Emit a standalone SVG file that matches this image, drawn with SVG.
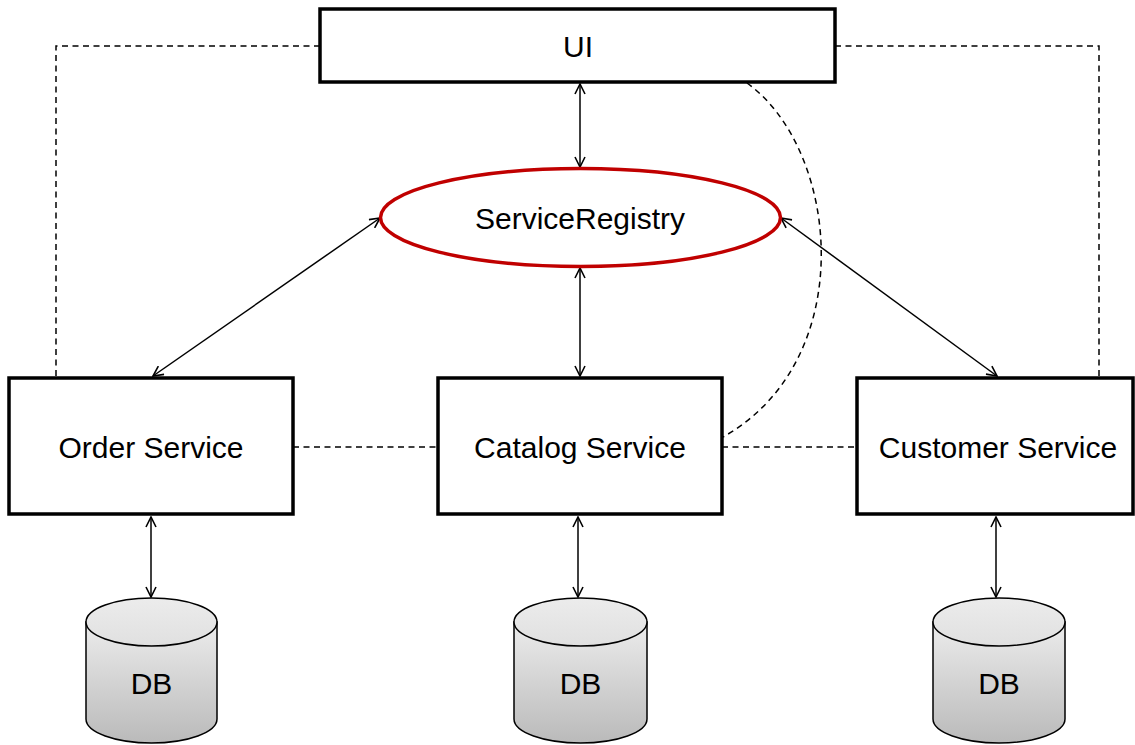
<svg xmlns="http://www.w3.org/2000/svg" width="1135" height="745" viewBox="0 0 1135 745">
<defs>
<linearGradient id="dbg" x1="0" y1="0" x2="0" y2="1">
<stop offset="0" stop-color="#ececec"/>
<stop offset="1" stop-color="#bababa"/>
</linearGradient>
<linearGradient id="dbtop" x1="0" y1="0" x2="0" y2="1">
<stop offset="0" stop-color="#ececec"/>
<stop offset="1" stop-color="#e0e0e0"/>
</linearGradient>
<marker id="ah" viewBox="0 0 12 12" refX="11" refY="6" markerWidth="12" markerHeight="12" markerUnits="userSpaceOnUse" orient="auto-start-reverse">
<path d="M1,1 L11,6 L1,11" fill="none" stroke="#000" stroke-width="1.6"/>
</marker>
</defs>
<style>
.box{fill:#fff;stroke:#000;stroke-width:3.5}
.lbl{font-family:"Liberation Sans",Arial,sans-serif;font-size:30px;fill:#000;text-anchor:middle}
.dash{fill:none;stroke:#000;stroke-width:1.5;stroke-dasharray:6 4.5}
.arr{fill:none;stroke:#000;stroke-width:1.5;marker-start:url(#ah);marker-end:url(#ah)}
.db{stroke:#000;stroke-width:1.5}
</style>
<rect width="1135" height="745" fill="#fff"/>
<g id="connectors">
<path class="dash" d="M320,46 H56 V377"/>
<path class="dash" d="M835,46 H1099 V377"/>
<path class="dash" d="M293,447 H438"/>
<path class="dash" d="M722,447 H857"/>
<path class="dash" d="M747,83 C840,150 860,360 723,437"/>
<line class="arr" x1="580" y1="84" x2="580" y2="167"/>
<line class="arr" x1="580" y1="268" x2="580" y2="376"/>
<line class="arr" x1="380" y1="218" x2="153" y2="376"/>
<line class="arr" x1="781" y1="218" x2="997" y2="376"/>
<line class="arr" x1="151" y1="517" x2="151" y2="597"/>
<line class="arr" x1="578" y1="517" x2="578" y2="597"/>
<line class="arr" x1="996" y1="517" x2="996" y2="597"/>
</g>
<g id="ui">
<rect class="box" x="320" y="9" width="515" height="73"/>
<text class="lbl" x="578" y="57">UI</text>
</g>
<g id="registry">
<ellipse cx="580.5" cy="217.5" rx="200" ry="49" fill="#fff" stroke="#c00000" stroke-width="3.5"/>
<text class="lbl" x="580" y="229">ServiceRegistry</text>
</g>
<g id="order">
<rect class="box" x="9" y="378" width="284" height="136"/>
<text class="lbl" x="151" y="458">Order Service</text>
</g>
<g id="catalog">
<rect class="box" x="438" y="378" width="284" height="136"/>
<text class="lbl" x="580" y="458">Catalog Service</text>
</g>
<g id="customer">
<rect class="box" x="857" y="378" width="276" height="136"/>
<text class="lbl" x="998" y="458">Customer Service</text>
</g>
<g id="db-order">
<path class="db" fill="url(#dbg)" d="M86,622 V719 A65.5,24 0 0 0 217,719 V622 Z"/>
<ellipse class="db" cx="151.5" cy="622" rx="65.5" ry="24" fill="url(#dbtop)"/>
<text class="lbl" x="151.5" y="694">DB</text>
</g>
<g id="db-catalog">
<path class="db" fill="url(#dbg)" d="M514,622 V719 A66.5,24 0 0 0 647,719 V622 Z"/>
<ellipse class="db" cx="580.5" cy="622" rx="66.5" ry="24" fill="url(#dbtop)"/>
<text class="lbl" x="580.5" y="694">DB</text>
</g>
<g id="db-customer">
<path class="db" fill="url(#dbg)" d="M933,622 V719 A66,24 0 0 0 1065,719 V622 Z"/>
<ellipse class="db" cx="999" cy="622" rx="66" ry="24" fill="url(#dbtop)"/>
<text class="lbl" x="999" y="694">DB</text>
</g>
</svg>
